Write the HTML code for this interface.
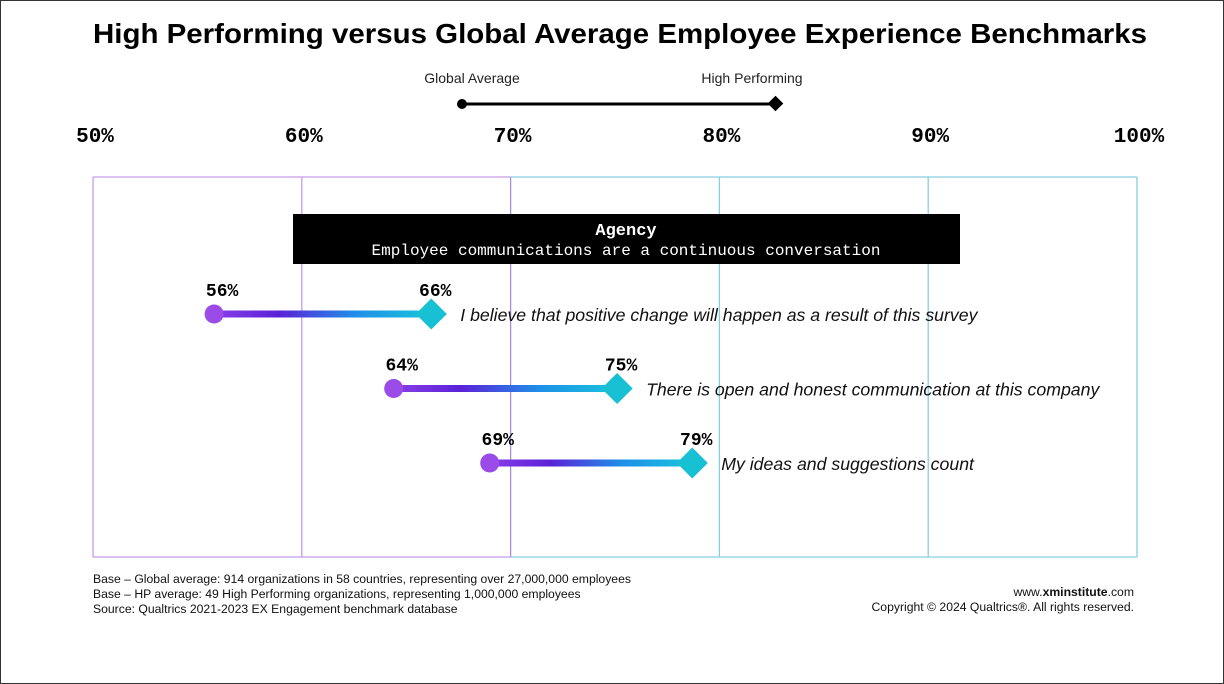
<!DOCTYPE html>
<html><head><meta charset="utf-8">
<style>
html,body{margin:0;padding:0;background:#fff;}
#wrap{position:relative;width:1222px;height:682px;border:1px solid #333;overflow:hidden;font-family:"Liberation Sans",sans-serif;}
svg{position:absolute;left:0;top:0;}
</style></head>
<body>
<div id="wrap">
<svg id="chart" width="1224" height="684">
<defs>
<linearGradient id="seg" x1="0" x2="1" y1="0" y2="0">
<stop offset="0" stop-color="#8a3ee8"/><stop offset="0.3" stop-color="#5a22d8"/><stop offset="0.65" stop-color="#1e8fe8"/><stop offset="1" stop-color="#19c4dc"/>
</linearGradient>
</defs>
<text x="92" y="42" textLength="1054" lengthAdjust="spacingAndGlyphs" font-size="28" font-weight="bold" fill="#000">High Performing versus Global Average Employee Experience Benchmarks</text>
<g>
<text x="471" y="82" text-anchor="middle" font-size="14" fill="#222">Global Average</text>
<text x="751" y="82" text-anchor="middle" font-size="14" fill="#222">High Performing</text>
<line x1="461" y1="103" x2="770" y2="103" stroke="#000" stroke-width="3"/>
<circle cx="461" cy="103" r="5" fill="#000"/>
<rect x="769" y="97" width="11" height="11" fill="#000" transform="rotate(45 774.5 102.5)"/>
</g>
<g id="axis"></g>
<g id="banner">
<rect x="292" y="213" width="667" height="50" fill="#000"/>
<text x="625" y="234" text-anchor="middle" font-family="Liberation Mono, monospace" font-size="17" font-weight="bold" fill="#fff">Agency</text>
<text x="625" y="254" text-anchor="middle" font-family="Liberation Mono, monospace" font-size="16" fill="#fff">Employee communications are a continuous conversation</text>
</g>
<g id="marks"></g>
<g font-size="12.2" fill="#111">
<text x="92" y="582">Base – Global average: 914 organizations in 58 countries, representing over 27,000,000 employees</text>
<text x="92" y="597">Base – HP average: 49 High Performing organizations,  representing 1,000,000 employees</text>
<text x="92" y="612">Source: Qualtrics 2021-2023 EX Engagement benchmark database</text>
<text x="1133" y="595" text-anchor="end">www.<tspan font-weight="bold">xminstitute</tspan>.com</text>
<text x="1133" y="610" text-anchor="end">Copyright © 2024 Qualtrics®. All rights reserved.</text>
</g>
</svg>
</div>
<script>
const ticks=[50,60,70,80,90,100];
const tickLabels=["50%","60%","70%","80%","90%","100%"];
const statements=["I believe that positive change will happen as a result of this survey","There is open and honest communication at this company","My ideas and suggestions count"];
const globalAvg=[55.8,64.4,69.0];
const highPerf=[66.2,75.1,78.7];
const globalLabels=["56%","64%","69%"];
const highLabels=["66%","75%","79%"];

const NS="http://www.w3.org/2000/svg";
const X0=92,X1=1136,TOP=176,BOT=556;
function xs(v){return X0+(v-50)/50*(X1-X0);}
function ys(i){return 313+i*74.5;}
function mk(tag,attrs,parent){const e=document.createElementNS(NS,tag);for(const k in attrs)e.setAttribute(k,attrs[k]);parent.appendChild(e);return e;}
const axis=document.getElementById('axis');
const marks=document.getElementById('marks');
ticks.forEach((t,i)=>{
  const x=xs(t);
  const col=t<70?"#c79be6":(t===70?"#a58fd8":"#86cfe0");
  const ln=mk('line',{x1:x,y1:TOP,x2:x,y2:BOT,stroke:col,'stroke-width':1.3},axis);
  
  
  const tx=mk('text',{x:x+2,y:141,'text-anchor':'middle','font-family':'Liberation Mono, monospace','font-size':21,'font-weight':'bold',fill:'#000'},axis);
  tx.textContent=tickLabels[i];
  
  
});
const tl=mk('line',{x1:X0,y1:TOP,x2:xs(70),y2:TOP,stroke:'#c79be6','stroke-width':1.3},axis);


const tr=mk('line',{x1:xs(70),y1:TOP,x2:X1,y2:TOP,stroke:'#86cfe0','stroke-width':1.3},axis);


const bl=mk('line',{x1:X0,y1:BOT,x2:xs(70),y2:BOT,stroke:'#c79be6','stroke-width':1.3},axis);


const br=mk('line',{x1:xs(70),y1:BOT,x2:X1,y2:BOT,stroke:'#86cfe0','stroke-width':1.3},axis);



statements.forEach((s,i)=>{
  const y=ys(i),xa=xs(globalAvg[i]),xb=xs(highPerf[i]);
  const g=mk('g',{},marks);
  
  
  const seg=mk('rect',{x:xa,y:y-3.5,width:xb-xa,height:7,fill:'url(#seg)'},g);
  
  
  const c=mk('circle',{cx:xa,cy:y,r:9.5,fill:'#9a4be8'},g);
  
  
  const d=mk('rect',{x:xb-11,y:y-11,width:22,height:22,fill:'#17c0d2',transform:`rotate(45 ${xb} ${y})`},g);
  
  
  const la=mk('text',{x:xa+8,y:y-18,'text-anchor':'middle','font-family':'Liberation Mono, monospace','font-size':18,'font-weight':'bold',fill:'#000'},g);
  la.textContent=globalLabels[i];
  
  
  const lb=mk('text',{x:xb+4,y:y-18,'text-anchor':'middle','font-family':'Liberation Mono, monospace','font-size':18,'font-weight':'bold',fill:'#000'},g);
  lb.textContent=highLabels[i];
  
  
  const st=mk('text',{x:xb+29,y:y+7,'font-size':17.7,'font-style':'italic',fill:'#111'},g);
  st.textContent=s;
  
  
});
</script>
</body></html>
